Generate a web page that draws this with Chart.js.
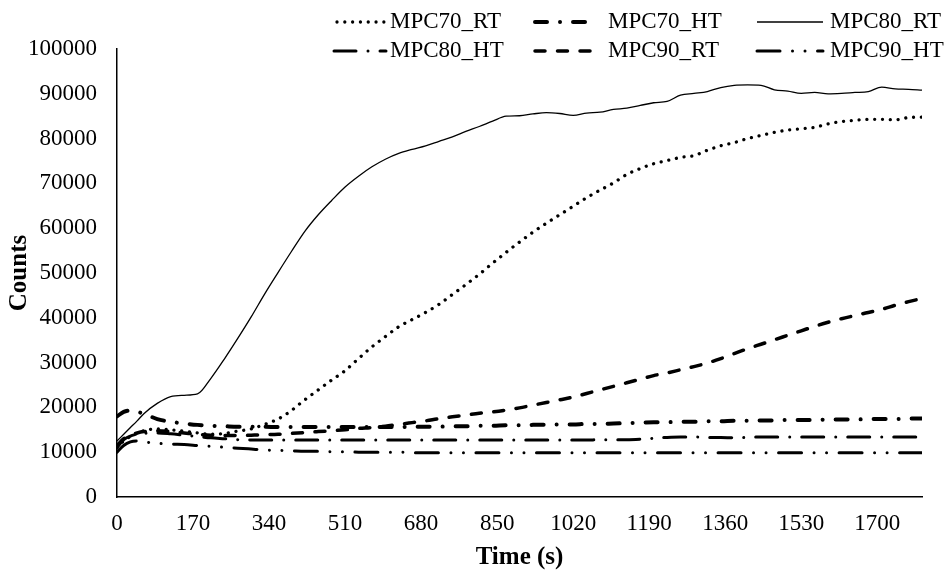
<!DOCTYPE html>
<html>
<head>
<meta charset="utf-8">
<script src="https://cdn.jsdelivr.net/npm/chart.js@4.4.1/dist/chart.umd.min.js"></script>
<style>
  html, body { margin: 0; padding: 0; background: #fff; }
  #wrap { width: 950px; height: 573px; }
</style>
</head>
<body>
<div id="wrap"><canvas id="c" width="950" height="573"></canvas></div>
<script>
// Sampling times (s)
const timeSec = [
  0, 15, 30, 45, 60,
  90, 120, 150, 180, 210, 240, 270, 300, 330, 360,
  390, 420, 450, 480, 510, 540, 570, 600, 630, 660,
  690, 720, 750, 780, 810, 840, 870, 900, 930, 960,
  990, 1020, 1050, 1080, 1110, 1140, 1170, 1200, 1230, 1260,
  1290, 1320, 1350, 1380, 1410, 1440, 1470, 1500, 1530, 1560,
  1590, 1620, 1650, 1680, 1710, 1740, 1770, 1800
];

// Counts per series
const mpc70RT = [
  11000, 12500, 13500, 14200, 14800,
  15200, 15000, 14700, 14300, 14000, 14200, 14700, 15200, 16200, 17400,
  19300, 21700, 23900, 26100, 28200, 30900, 33500, 35800, 38000, 39600,
  41200, 43000, 45200, 47400, 49700, 52200, 54600, 56900, 59100, 61100,
  63000, 64900, 66800, 68500, 70100, 72000, 73300, 74400, 75100, 75800,
  76200, 77400, 78400, 79100, 80000, 80700, 81400, 81900, 82200, 82500,
  83300, 83800, 84100, 84300, 84300, 84200, 84700, 84800
];
const mpc70HT = [
  18000, 19000, 19300, 19000, 18600,
  17400, 16800, 16400, 16100, 15900, 15800, 15700, 15700, 15700, 15600,
  15600, 15600, 15600, 15600, 15600, 15600, 15600, 15600, 15600, 15700,
  15700, 15700, 15800, 15800, 15900, 15900, 16000, 16000, 16100, 16100,
  16200, 16200, 16300, 16300, 16400, 16500, 16600, 16700, 16700, 16800,
  16800, 16900, 16900, 17000, 17000, 17100, 17100, 17200, 17200, 17200,
  17300, 17300, 17300, 17400, 17400, 17400, 17500, 17500
];
const mpc80RT = [
  12500, 14000, 15500, 17000, 18600,
  20900, 22400, 22700, 23000, 26500, 30800, 35400, 40200, 45300, 50100,
  54800, 59300, 63000, 66200, 69200, 71600, 73700, 75400, 76700, 77600,
  78400, 79400, 80400, 81600, 82700, 83900, 85000, 85100, 85500, 85800,
  85600, 85200, 85700, 85900, 86500, 86800, 87400, 88000, 88300, 89700,
  90100, 90500, 91400, 91900, 92000, 91900, 90900, 90600, 90100, 90300,
  90000, 90100, 90300, 90500, 91500, 91100, 91000, 90800
];
const mpc80HT = [
  11000, 12800, 13600, 14000, 14200,
  14300, 14100, 13800, 13500, 13200, 13000, 12800, 12700, 12700, 12700,
  12700, 12700, 12700, 12700, 12700, 12700, 12700, 12700, 12700, 12700,
  12700, 12700, 12700, 12700, 12700, 12700, 12700, 12700, 12700, 12700,
  12700, 12700, 12700, 12800, 12800, 12800, 12900, 13100, 13300, 13400,
  13400, 13300, 13300, 13200, 13300, 13400, 13400, 13400, 13400, 13400,
  13400, 13400, 13400, 13400, 13400, 13400, 13400, 13400
];
const mpc90RT = [
  11500, 13000, 13800, 14300, 14600,
  14800, 14600, 14300, 14000, 13800, 13700, 13700, 13800, 13900, 14000,
  14200, 14400, 14600, 14800, 15000, 15300, 15500, 15800, 16200, 16600,
  17000, 17500, 17900, 18300, 18700, 19000, 19400, 19900, 20500, 21100,
  21700, 22300, 23100, 23900, 24700, 25500, 26300, 27100, 27700, 28400,
  29100, 29900, 30900, 32000, 33100, 34100, 35100, 36100, 37100, 38100,
  39000, 39800, 40500, 41200, 41900, 42800, 43600, 44300
];
const mpc90HT = [
  10000, 11500, 12300, 12500, 12300,
  12000, 11800, 11700, 11500, 11300, 11100, 10900, 10700, 10500, 10400,
  10300, 10200, 10200, 10100, 10100, 10000, 10000, 10000, 10000, 9900,
  9900, 9900, 9900, 9900, 9900, 9900, 9900, 9900, 9900, 9900,
  9900, 9900, 9900, 9900, 9900, 9900, 9900, 9900, 9900, 9900,
  9900, 9900, 9900, 9900, 9900, 9900, 9900, 9900, 9900, 9900,
  9900, 9900, 9900, 9900, 9900, 9900, 9900, 9900
];

const seriesNames = ['MPC70_RT', 'MPC70_HT', 'MPC80_RT', 'MPC80_HT', 'MPC90_RT', 'MPC90_HT'];
const xTickValues = [0, 170, 340, 510, 680, 850, 1020, 1190, 1360, 1530, 1700];
const yTickValues = [0, 10000, 20000, 30000, 40000, 50000, 60000, 70000, 80000, 90000, 100000];

const SERIF = "'Times New Roman', 'Liberation Serif', serif";

const toPoints = vals => timeSec.map((t, i) => ({ x: t, y: vals[i] }));

// line looks: dotted, dash-dot, solid, long dash-dot, dashed, long dash-dot-dot
const lineStyles = [
  { borderWidth: 3.3, borderDash: [0.01, 7.8] },
  { borderWidth: 4,   borderDash: [12, 13, 0.01, 13] },
  { borderWidth: 1.3, borderDash: [] },
  { borderWidth: 3,   borderDash: [22, 12, 0.01, 12] },
  { borderWidth: 3.5, borderDash: [10, 12.5] },
  { borderWidth: 3,   borderDash: [23, 12.5, 0.01, 12.5, 0.01, 12.5] }
];
const seriesValues = [mpc70RT, mpc70HT, mpc80RT, mpc80HT, mpc90RT, mpc90HT];

const datasets = seriesNames.map((name, i) => ({
  label: name,
  data: toPoints(seriesValues[i]),
  borderColor: '#000',
  backgroundColor: '#000',
  borderWidth: lineStyles[i].borderWidth,
  borderDash: lineStyles[i].borderDash,
  borderCapStyle: i === 2 ? 'butt' : 'round',
  borderJoinStyle: 'round',
  pointRadius: 0,
  cubicInterpolationMode: 'monotone',
  fill: false
}));

// Two-row legend laid out in three columns above the plot
const gridLegend = {
  id: 'gridLegend',
  afterDraw(chart, args, opts) {
    const ctx = chart.ctx;
    chart.data.datasets.forEach((ds, i) => {
      const s = opts.slots[i];
      ctx.save();
      ctx.strokeStyle = ds.borderColor;
      ctx.lineWidth = ds.borderWidth;
      ctx.lineCap = ds.borderCapStyle;
      ctx.setLineDash(ds.borderDash || []);
      ctx.beginPath();
      ctx.moveTo(s.x0, s.y);
      ctx.lineTo(s.x1, s.y);
      ctx.stroke();
      ctx.setLineDash([]);
      ctx.fillStyle = '#000';
      ctx.font = opts.font;
      ctx.textAlign = 'left';
      ctx.textBaseline = 'middle';
      ctx.fillText(ds.label, s.tx, s.y);
      ctx.restore();
    });
  }
};

new Chart(document.getElementById('c'), {
  type: 'line',
  data: { datasets },
  plugins: [gridLegend],
  options: {
    responsive: false,
    animation: false,
    devicePixelRatio: 1,
    layout: { padding: { top: 49, right: 28, bottom: 0, left: 0 } },
    plugins: {
      legend: { display: false },
      tooltip: { enabled: false },
      gridLegend: {
        font: '23px ' + SERIF,
        slots: [
          { x0: 337, x1: 386, tx: 390, y: 22 },
          { x0: 535, x1: 595, tx: 608, y: 22 },
          { x0: 757, x1: 823, tx: 830, y: 22 },
          { x0: 334, x1: 386, tx: 390, y: 51 },
          { x0: 535, x1: 593, tx: 608, y: 51 },
          { x0: 757, x1: 823, tx: 830, y: 51 }
        ]
      }
    },
    scales: {
      x: {
        type: 'linear',
        min: 0,
        max: 1800,
        grid: { display: false, drawTicks: false },
        border: { display: true, color: '#000', width: 1.5 },
        afterBuildTicks: s => { s.ticks = xTickValues.map(v => ({ value: v })); },
        afterFit: s => { s.height = 76; },
        ticks: {
          color: '#000',
          padding: 13,
          maxRotation: 0,
          autoSkip: false,
          font: { family: SERIF, size: 23 },
          callback: v => String(v)
        },
        title: {
          display: true,
          text: 'Time (s)',
          color: '#000',
          font: { family: SERIF, size: 25, weight: 'bold' },
          padding: { top: 0, bottom: 0 }
        }
      },
      y: {
        type: 'linear',
        min: 0,
        max: 100000,
        grid: { display: false, drawTicks: false },
        border: { display: true, color: '#000', width: 1.5 },
        afterBuildTicks: s => { s.ticks = yTickValues.map(v => ({ value: v })); },
        afterFit: s => { s.width = 117; },
        ticks: {
          color: '#000',
          padding: 20,
          autoSkip: false,
          font: { family: SERIF, size: 23 },
          callback: v => String(v)
        },
        title: {
          display: true,
          text: 'Counts',
          color: '#000',
          font: { family: SERIF, size: 25, weight: 'bold' },
          padding: { top: 5, bottom: 0 }
        }
      }
    }
  }
});
</script>
</body>
</html>
